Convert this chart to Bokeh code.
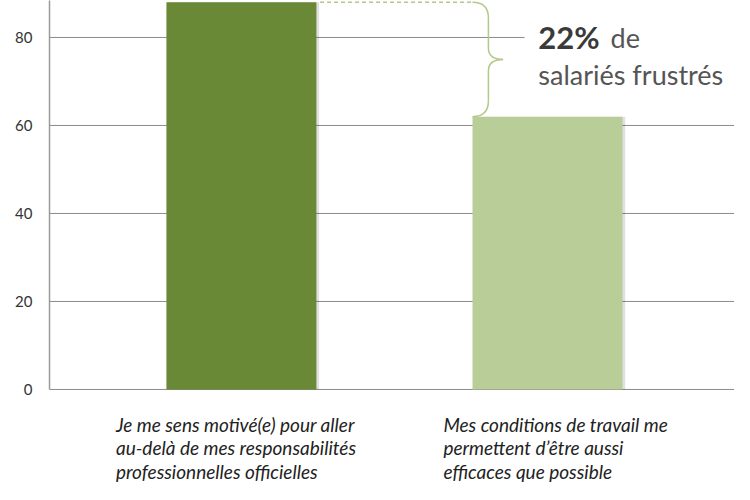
from bokeh.plotting import figure
from bokeh.models import Range1d, Label, FixedTicker
from bokeh.core.properties import value
from bokeh.embed import file_html
from bokeh.resources import INLINE

# ---- data ----
categories = [
    "Je me sens motivé(e) pour aller\nau-delà de mes responsabilités\nprofessionnelles officielles",
    "Mes conditions de travail me\npermettent d’être aussi\nefficaces que possible",
]
values = [88, 62]
y_ticks = [0, 20, 40, 60, 80]
bar_colors = ["#6a8936", "#b8cd97"]
note_bold = "22%"
note_rest = "de"
note_line2 = "salariés frustrés"

# ---- layout constants ----
xs = [1, 2]
bar_w = 0.49
label_dx = [-0.41, -0.34]
FONT = "Lato"
Y_TOP = 88.4

p = figure(width=734, height=484,
           x_range=Range1d(0.373, 2.611), y_range=Range1d(-21.6, Y_TOP),
           output_backend="svg", toolbar_location=None,
           min_border_left=49, min_border_right=0,
           min_border_top=0, min_border_bottom=0)
p.outline_line_color = None
p.xgrid.visible = False
p.ygrid.visible = False
p.xaxis.visible = False
p.background_fill_color = "white"

# y axis
p.yaxis.ticker = FixedTicker(ticks=y_ticks)
p.yaxis.bounds = (0, Y_TOP)
p.yaxis.major_tick_in = 0
p.yaxis.major_tick_out = 0
p.yaxis.minor_tick_in = 0
p.yaxis.minor_tick_out = 0
p.yaxis.axis_line_color = "#9a9a9a"
p.yaxis.axis_line_width = 1.5
p.yaxis.major_label_text_font = FONT
p.yaxis.major_label_text_font_size = "15px"
p.yaxis.major_label_text_color = "#333333"
p.yaxis.major_label_standoff = 17

# note position
text_x = 1.97
x_end = p.x_range.end
x_start = p.x_range.start

# grid lines incl. baseline (the 80 line stops before the note)
grid_x1 = [x_end if t < max(y_ticks) else text_x - 0.045 for t in y_ticks]
p.segment(x0=[x_start] * len(y_ticks), y0=y_ticks, x1=grid_x1, y1=y_ticks,
          line_color="#8c8c8c", line_width=1)

# shadows + bars
p.vbar(x=[x + 0.009 for x in xs], top=values, width=bar_w, bottom=0,
       fill_color="#000000", fill_alpha=0.12, line_color=None)
p.vbar(x=xs, top=values, width=bar_w, bottom=0,
       fill_color=bar_colors, line_color=None)

# dashed connector from top of bar 1 to brace
brace_col = "#b3c88a"
xl = xs[1] - bar_w / 2
p.line(x=[xs[0] + bar_w / 2 + 0.012, xl], y=[values[0], values[0]],
       line_color=brace_col, line_width=1.5, line_dash="4 3")

# curly brace between the two bar tops
y_top, y_bot = values[0], values[1]
y_mid = (y_top + y_bot) / 2
xm = xl + 0.052
xt = xl + 0.1
r = 3.6
rt = 2.6
p.quadratic(x0=[xl, xm, xt, xm], y0=[y_top, y_mid + rt, y_mid, y_bot + r],
            x1=[xm, xt, xm, xl], y1=[y_top - r, y_mid, y_mid - rt, y_bot],
            cx=[xm, xm, xm, xm], cy=[y_top, y_mid, y_mid, y_bot],
            line_color=brace_col, line_width=1.5)
p.segment(x0=[xm, xm], y0=[y_top - r, y_mid - rt], x1=[xm, xm], y1=[y_mid + rt, y_bot + r],
          line_color=brace_col, line_width=1.5)

# note text
p.add_layout(Label(x=text_x, y=80, text=note_bold, text_font=FONT,
                   text_font_style="bold", text_font_size="31px",
                   text_color="#3a3a3a", text_baseline="middle"))
p.add_layout(Label(x=2.206, y=80, text=note_rest, text_font=FONT,
                   text_font_size="27px", text_color="#555555",
                   text_baseline="middle"))
p.add_layout(Label(x=text_x, y=71.6, text=note_line2, text_font=FONT,
                   text_font_size="27px", text_color="#555555",
                   text_baseline="middle"))

# category labels
p.text(x=[xs[i] + label_dx[i] for i in range(len(xs))], y=[-5.3] * len(xs),
       text=categories, text_font=value(FONT), text_font_style="italic",
       text_font_size="19px", text_color="#222222", text_align="left",
       text_baseline="top", text_line_height=1.03)

open("out.html", "w").write(file_html(p, INLINE))
